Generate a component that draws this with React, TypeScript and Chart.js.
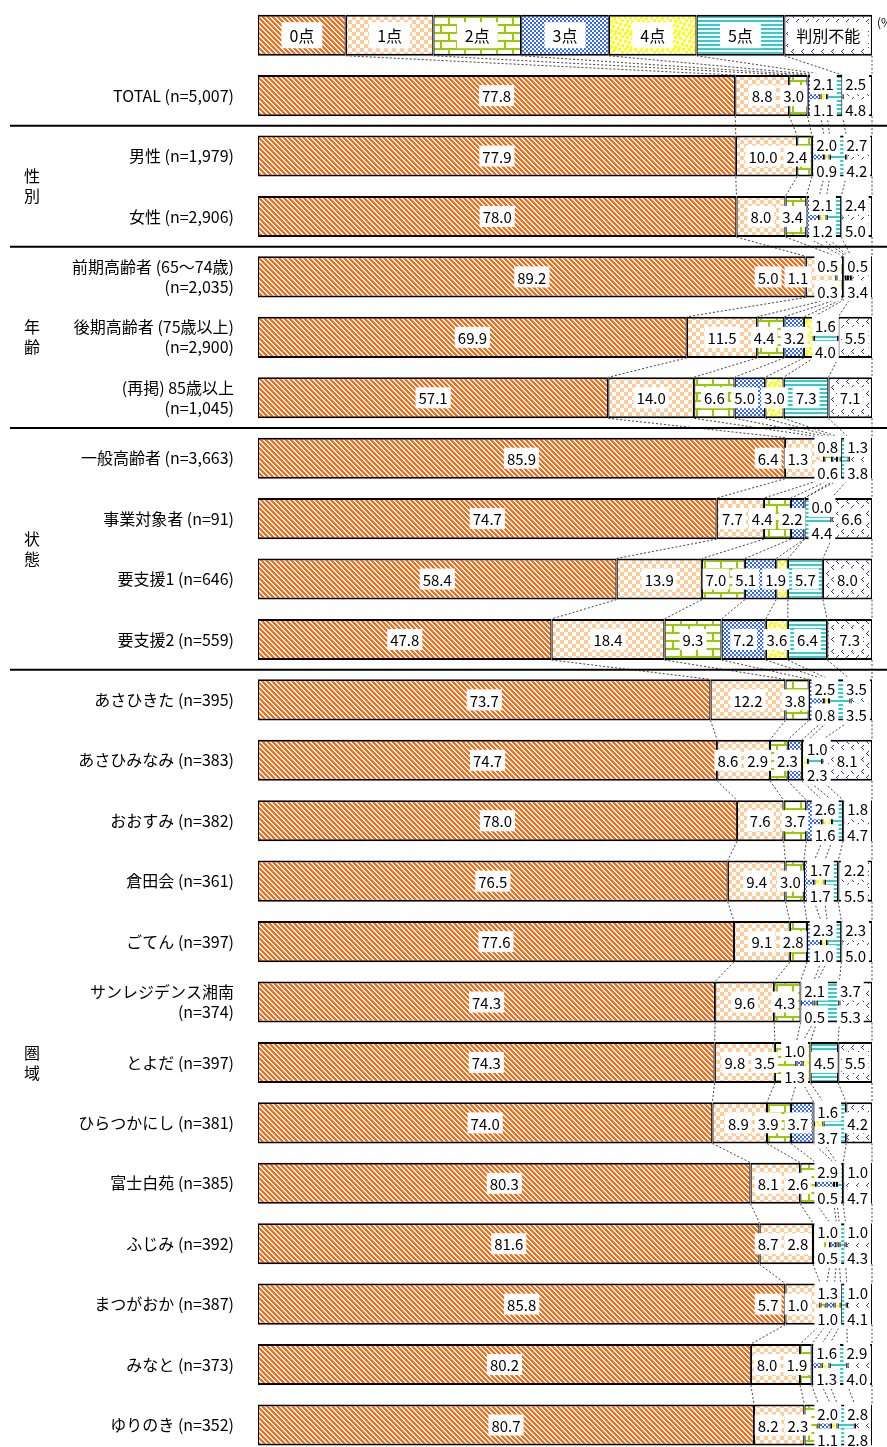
import React, { useEffect, useRef } from "react";
import { Chart, registerables } from "chart.js";

Chart.register(...registerables);

const FONT = '"Noto Sans CJK JP", "Noto Sans", sans-serif';

// ---------- data ----------
const seriesNames = ["0点", "1点", "2点", "3点", "4点", "5点", "判別不能"];
// the legend is drawn as a bar with equal parts
const legendShares = [14.29, 14.28, 14.29, 14.28, 14.29, 14.28, 14.29];

const rowLabels: (string | string[])[] = [
  "TOTAL (n=5,007)",
  "男性 (n=1,979)",
  "女性 (n=2,906)",
  ["前期高齢者 (65～74歳)", "(n=2,035)"],
  ["後期高齢者 (75歳以上)", "(n=2,900)"],
  ["(再掲) 85歳以上", "(n=1,045)"],
  "一般高齢者 (n=3,663)",
  "事業対象者 (n=91)",
  "要支援1 (n=646)",
  "要支援2 (n=559)",
  "あさひきた (n=395)",
  "あさひみなみ (n=383)",
  "おおすみ (n=382)",
  "倉田会 (n=361)",
  "ごてん (n=397)",
  ["サンレジデンス湘南", "(n=374)"],
  "とよだ (n=397)",
  "ひらつかにし (n=381)",
  "富士白苑 (n=385)",
  "ふじみ (n=392)",
  "まつがおか (n=387)",
  "みなと (n=373)",
  "ゆりのき (n=352)",
];

const groupNames = ["性別", "年齢", "状態", "圏域"];
const groupSizes = [2, 3, 4, 13];

const score0 = [77.8, 77.9, 78.0, 89.2, 69.9, 57.1, 85.9, 74.7, 58.4, 47.8, 73.7, 74.7, 78.0, 76.5, 77.6, 74.3, 74.3, 74.0, 80.3, 81.6, 85.8, 80.2, 80.7];
const score1 = [8.8, 10.0, 8.0, 5.0, 11.5, 14.0, 6.4, 7.7, 13.9, 18.4, 12.2, 8.6, 7.6, 9.4, 9.1, 9.6, 9.8, 8.9, 8.1, 8.7, 5.7, 8.0, 8.2];
const score2 = [3.0, 2.4, 3.4, 1.1, 4.4, 6.6, 1.3, 4.4, 7.0, 9.3, 3.8, 2.9, 3.7, 3.0, 2.8, 4.3, 3.5, 3.9, 2.6, 2.8, 1.0, 1.9, 2.3];
const score3 = [2.1, 2.0, 2.1, 0.5, 3.2, 5.0, 0.8, 2.2, 5.1, 7.2, 2.5, 2.3, 2.6, 1.7, 2.3, 2.1, 1.0, 3.7, 2.9, 1.0, 1.3, 1.6, 2.0];
const score4 = [1.1, 0.9, 1.2, 0.3, 1.6, 3.0, 0.6, 0.0, 1.9, 3.6, 0.8, 1.0, 1.6, 1.7, 1.0, 0.5, 1.3, 1.6, 0.5, 0.5, 1.0, 1.3, 1.1];
const score5 = [2.5, 2.7, 2.4, 0.5, 4.0, 7.3, 1.3, 4.4, 5.7, 6.4, 3.5, 2.3, 1.8, 2.2, 2.3, 3.7, 4.5, 3.7, 1.0, 1.0, 1.0, 2.9, 2.8];
const unknown = [4.8, 4.2, 5.0, 3.4, 5.5, 7.1, 3.8, 6.6, 8.0, 7.3, 3.5, 8.1, 4.7, 5.5, 5.0, 5.3, 5.5, 4.2, 4.7, 4.3, 4.1, 4.0, 2.8];

const seriesValues = [score0, score1, score2, score3, score4, score5, unknown];

// ---------- patterns ----------
function tile(w: number, h: number, fg: string, test: (x: number, y: number) => boolean) {
  const cv = document.createElement("canvas");
  cv.width = w;
  cv.height = h;
  const c = cv.getContext("2d")!;
  c.fillStyle = "#ffffff";
  c.fillRect(0, 0, w, h);
  c.fillStyle = fg;
  for (let y = 0; y < h; y++) for (let x = 0; x < w; x++) if (test(x, y)) c.fillRect(x, y, 1, 1);
  return cv;
}

function buildPatterns(ctx: CanvasRenderingContext2D) {
  const confetti: number[][] = [
    [0, 0], [5, 1], [10, 0], [13, 3], [2, 4], [7, 5], [11, 7], [0, 8], [4, 9], [9, 11], [13, 12], [2, 13], [6, 14],
  ];
  const chevronShape: number[][] = [[2, 0], [1, 1], [0, 2], [1, 3], [2, 4]];
  const chevronAt: number[][] = [[1, 1], [6, 7]];
  const tiles = [
    tile(5, 5, "#FF6A13", (x, y) => ((((x - y) % 5) + 5) % 5) < 3),
    tile(8, 8, "#FFCC99", (x, y) => ((x >> 2) + (y >> 2)) % 2 === 0),
    tile(16, 16, "#99CC00", (x, y) => y % 8 < 1.5 || (y % 16 < 8 ? x % 16 < 2 : (x + 8) % 16 < 2)),
    tile(4, 4, "#3366FF", (x, y) => ((x >> 1) + (y >> 1)) % 2 === 0),
    tile(16, 16, "#FFFF00", (x, y) =>
      confetti.some(([cx, cy]) => {
        const dx = (x - cx + 16) % 16;
        const dy = (y - cy + 16) % 16;
        return dx < 3 && dy < 3;
      })
    ),
    tile(4, 4, "#33CCCC", (_x, y) => y % 4 < 2),
    tile(10, 12, "#333399", (x, y) =>
      chevronAt.some(([ax, ay]) => chevronShape.some(([sx, sy]) => ax + sx === x && ay + sy === y))
    ),
  ];
  return tiles.map((t) => ctx.createPattern(t, "repeat")!);
}

// ---------- label layout ----------
type Seg = { s: number; e: number };
type Item = { kind: "in" | "col"; idx: number[]; ideal: number; w: number; x: number };

function layoutRow(segs: Seg[], vals: number[], widths: number[], rightEdge: number): Item[] {
  const n = segs.length;
  const out = new Set<number>();
  const TOL = 4;
  const normalize = () => {
    let changed = true;
    while (changed) {
      changed = false;
      const arr = [...out].sort((a, b) => a - b);
      const runs: number[][] = [];
      arr.forEach((v) => {
        const last = runs[runs.length - 1];
        if (last && last[last.length - 1] === v - 1) last.push(v);
        else runs.push([v]);
      });
      for (const run of runs) {
        if (run.length % 2 === 1) {
          const r = run[run.length - 1] + 1;
          if (r < n && !out.has(r)) out.add(r);
          else out.add(run[0] - 1);
          changed = true;
          break;
        }
      }
    }
  };
  let items: Item[] = [];
  for (let iter = 0; iter < 10; iter++) {
    items = [];
    let i = 0;
    while (i < n) {
      if (out.has(i) && i + 1 < n && out.has(i + 1)) {
        items.push({
          kind: "col",
          idx: [i, i + 1],
          ideal: (segs[i].s + segs[i + 1].e) / 2 + 6,
          w: Math.max(widths[i], widths[i + 1]),
          x: 0,
        });
        i += 2;
      } else {
        items.push({ kind: "in", idx: [i], ideal: (segs[i].s + segs[i].e) / 2, w: widths[i], x: 0 });
        i += 1;
      }
    }
    let maxX = rightEdge - items[items.length - 1].w / 2 - 1;
    for (let t = items.length - 1; t >= 0; t--) {
      const it = items[t];
      it.x = t === 0 ? it.ideal : Math.min(it.ideal, maxX);
      if (t > 0) maxX = it.x - (it.w + items[t - 1].w) / 2 - 3;
    }
    const bad = items.some(
      (it) =>
        it.kind === "in" &&
        it.idx[0] >= 3 &&
        (it.x < segs[it.idx[0]].s - TOL || it.x > segs[it.idx[0]].e + TOL)
    );
    if (!bad) break;
    let pick = -1;
    for (let k = 3; k < n; k++) {
      if (out.has(k)) continue;
      if (pick < 0 || vals[k] <= vals[pick]) pick = k;
    }
    if (pick < 0) break;
    out.add(pick);
    normalize();
  }
  return items;
}

function drawBoxText(c: CanvasRenderingContext2D, text: string, x: number, y: number, padX: number, h: number) {
  const w = c.measureText(text).width + padX * 2;
  c.fillStyle = "#ffffff";
  c.fillRect(x - w / 2, y - h / 2, w, h);
  c.fillStyle = "#000000";
  c.fillText(text, x, y + 1);
}

const overlayPlugin = {
  id: "overlay",
  afterDatasetsDraw(chart: any) {
    const c: CanvasRenderingContext2D = chart.ctx;
    const metas = seriesNames.map((_, j) => chart.getDatasetMeta(j));
    const nRows = chart.data.labels.length;
    const yScale = chart.scales.y;
    const area = chart.chartArea;
    const el = (j: number, r: number) => metas[j].data[r].getProps(["x", "y", "base", "height"], true);

    // series lines
    c.save();
    c.strokeStyle = "#111";
    c.lineWidth = 0.8;
    c.setLineDash([2, 2]);
    for (let r = 0; r < nRows - 1; r++) {
      for (let j = 0; j < seriesNames.length; j++) {
        const a = el(j, r);
        const b = el(j, r + 1);
        c.beginPath();
        c.moveTo(a.x, a.y + a.height / 2);
        c.lineTo(b.x, b.y - b.height / 2);
        c.stroke();
      }
    }
    c.restore();

    // group separators and group names
    c.save();
    let start = 2;
    groupNames.forEach((name, g) => {
      const yTop = (yScale.getPixelForValue(start - 1) + yScale.getPixelForValue(start)) / 2;
      c.strokeStyle = "#000";
      c.lineWidth = 2;
      c.beginPath();
      c.moveTo(10, yTop);
      c.lineTo(chart.width, yTop);
      c.stroke();
      const cy = (yScale.getPixelForValue(start) + yScale.getPixelForValue(start + groupSizes[g] - 1)) / 2;
      c.fillStyle = "#000";
      c.font = `16px ${FONT}`;
      c.textAlign = "center";
      c.textBaseline = "middle";
      c.fillText(name[0], 32, cy - 10);
      c.fillText(name[1], 32, cy + 10);
      start += groupSizes[g];
    });
    c.restore();

    // legend row labels
    c.save();
    c.textAlign = "center";
    c.textBaseline = "middle";
    c.font = `16px ${FONT}`;
    seriesNames.forEach((name, j) => {
      const e = el(j, 0);
      drawBoxText(c, name, (e.x + e.base) / 2, e.y, 8, 26);
    });
    c.restore();

    // data labels
    c.save();
    c.textAlign = "center";
    c.textBaseline = "middle";
    c.font = `15px ${FONT}`;
    for (let r = 1; r < nRows; r++) {
      const segs: Seg[] = [];
      const vals: number[] = [];
      const texts: string[] = [];
      const widths: number[] = [];
      let cy = 0;
      for (let j = 0; j < seriesNames.length; j++) {
        const e = el(j, r);
        cy = e.y;
        segs.push({ s: e.base, e: e.x });
        const v = seriesValues[j][r - 1];
        vals.push(v);
        const t = v.toFixed(1);
        texts.push(t);
        widths.push(c.measureText(t).width + 6);
      }
      const items = layoutRow(segs, vals, widths, area.right);
      items.forEach((it) => {
        if (it.kind === "in") {
          drawBoxText(c, texts[it.idx[0]], it.x, cy, 3, 21);
        } else {
          drawBoxText(c, texts[it.idx[0]], it.x, cy - 12, 3, 21);
          drawBoxText(c, texts[it.idx[1]], it.x, cy + 14, 3, 21);
        }
      });
    }
    c.restore();

    // unit
    c.save();
    c.fillStyle = "#000";
    c.font = `12px ${FONT}`;
    c.textAlign = "left";
    c.textBaseline = "middle";
    c.fillText("(%)", 877, 22);
    c.restore();
  },
};

export default function App() {
  const ref = useRef<HTMLCanvasElement>(null);
  useEffect(() => {
    const canvas = ref.current!;
    const ctx = canvas.getContext("2d")!;
    const patterns = buildPatterns(ctx);
    const rowSums = rowLabels.map((_, r) => seriesValues.reduce((acc, s) => acc + s[r], 0));
    const labels = ["", ...rowLabels];
    const datasets = seriesNames.map((name, j) => ({
      label: name,
      data: [legendShares[j], ...rowLabels.map((_, r) => (seriesValues[j][r] / rowSums[r]) * 100)],
      backgroundColor: patterns[j],
      borderColor: "#000000",
      borderWidth: { top: 2, bottom: 2, left: 1.25, right: 1.25 },
      borderSkipped: false,
      categoryPercentage: 1,
      barPercentage: 0.68,
    }));
    const chart = new Chart(ctx, {
      type: "bar",
      data: { labels, datasets } as any,
      options: {
        indexAxis: "y",
        animation: false,
        responsive: false,
        maintainAspectRatio: false,
        layout: { padding: { left: 0, right: 15, top: 5, bottom: 4.8 } },
        plugins: { legend: { display: false }, tooltip: { enabled: false } },
        scales: {
          x: { stacked: true, min: 0, max: 100, display: false },
          y: {
            stacked: true,
            grid: { display: false, drawTicks: false },
            border: { display: false },
            ticks: {
              color: "#000",
              autoSkip: false,
              padding: 24,
              font: { family: FONT, size: 16, lineHeight: 1.25 },
            },
            afterFit: (s: any) => {
              s.width = 258;
              s.paddingTop = 0;
              s.paddingBottom = 0;
            },
          },
        },
      } as any,
      plugins: [overlayPlugin],
    });
    return () => chart.destroy();
  }, []);
  return (
    <div style={{ width: 887, height: 1447, overflow: "hidden", background: "#fff" }}>
      <style>{"body{margin:0}"}</style>
      <canvas ref={ref} width={887} height={1460} style={{ display: "block", width: 887, height: 1460 }} />
    </div>
  );
}
